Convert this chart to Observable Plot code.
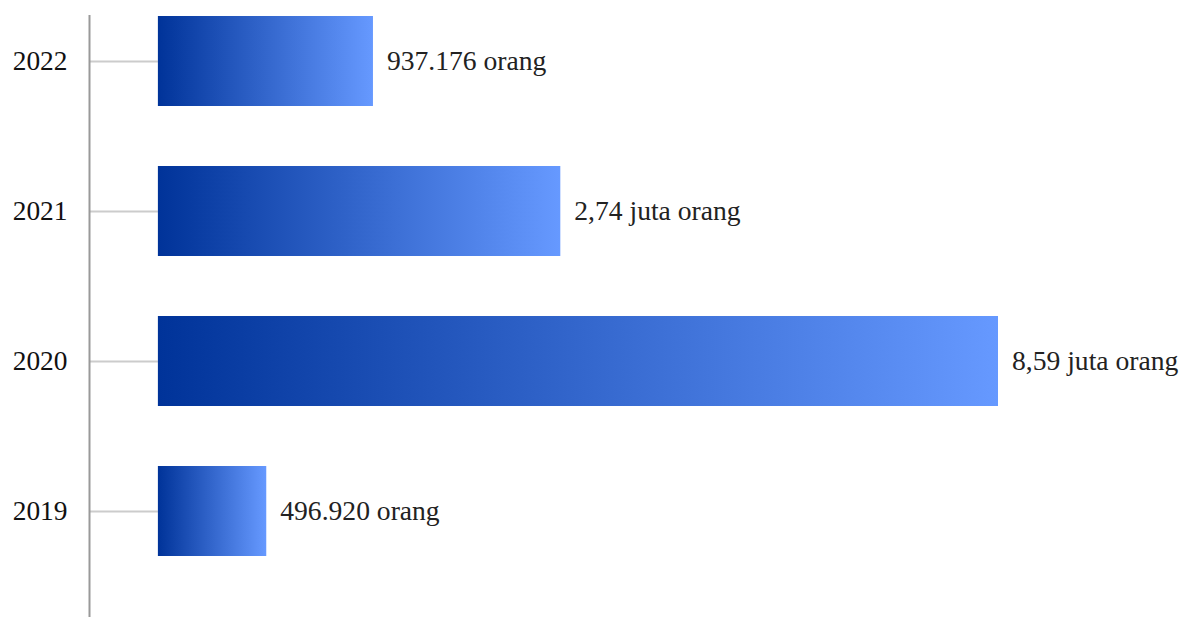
<!DOCTYPE html>
<html>
<head>
<meta charset="utf-8">
<script src="https://cdn.jsdelivr.net/npm/d3@7"></script>
<script src="https://cdn.jsdelivr.net/npm/@observablehq/plot@0.6"></script>
<style>
  html, body { margin: 0; padding: 0; background: #ffffff; }
  #chart { width: 1191px; height: 617px; overflow: hidden; }
</style>
</head>
<body>
<div id="chart"></div>
<script>
// Categories (top to bottom)
const years = ["2022", "2021", "2020", "2019"];
// Value labels as printed next to each bar
const labels = ["937.176 orang", "2,74 juta orang", "8,59 juta orang", "496.920 orang"];
// Bar lengths as drawn, in % of the longest bar
const barLength = [25.6, 47.9, 100, 12.9];

const data = years.map((y, i) => ({year: y, len: barLength[i], label: labels[i]}));

const xMin = -8.2; // position of the vertical axis line, left of the bar base

const chart = Plot.plot({
  width: 1191,
  height: 617,
  marginLeft: 89,
  marginRight: 193,
  marginTop: 15,
  marginBottom: 0,
  style: {fontFamily: "'Liberation Serif', 'Times New Roman', serif", fontSize: "27px", background: "#ffffff", overflow: "visible"},
  x: {domain: [xMin, 100], axis: null},
  y: {type: "band", domain: years, range: [-15.6, 587.2], paddingInner: 0.4, paddingOuter: 0.2, axis: null},
  marks: [
    Plot.ruleY(data, {y: "year", x1: xMin, x2: 0, stroke: "#cccccc", strokeWidth: 2}),
    Plot.ruleX([xMin], {stroke: "#999999", strokeWidth: 2}),
    Plot.barX(data, {y: "year", x1: 0, x2: "len", fill: "url(#barGrad)"}),
    Plot.text(data, {y: "year", x: "len", text: "label", dx: 13.5, textAnchor: "start", fill: "#222222", fontSize: 27.6}),
    Plot.text(data, {y: "year", x: xMin, text: "year", dx: -22, textAnchor: "end", fill: "#111111", fontSize: 27.4})
  ]
});

const defs = d3.create("svg:defs");
const grad = defs.append("linearGradient")
  .attr("id", "barGrad")
  .attr("x1", "0").attr("y1", "0").attr("x2", "1").attr("y2", "0");
grad.append("stop").attr("offset", "0%").attr("stop-color", "#003399");
grad.append("stop").attr("offset", "100%").attr("stop-color", "#6699ff");
chart.insertBefore(defs.node(), chart.firstChild);

document.getElementById("chart").appendChild(chart);
</script>
</body>
</html>
